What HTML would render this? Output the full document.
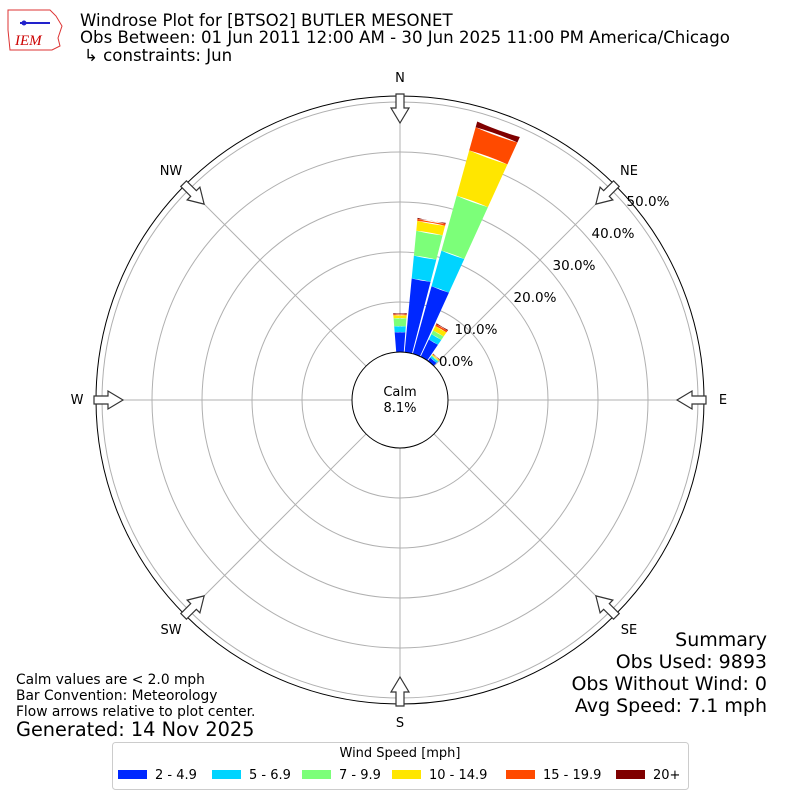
<!DOCTYPE html>
<html><head><meta charset="utf-8"><style>
body{margin:0;background:#fff}
svg{display:block;font-family:"DejaVu Sans","Liberation Sans",sans-serif}
</style></head><body>
<svg id="s" width="800" height="800" viewBox="0 0 800 800">
<rect width="800" height="800" fill="#fff"/>
<g id="grid" stroke="#b0b0b0" stroke-width="1" fill="none"></g>
<g id="bars"></g>
<circle cx="400" cy="400" r="48" fill="none" stroke="#000" stroke-width="1"/>
<circle cx="400" cy="400" r="304" fill="none" stroke="#000" stroke-width="1"/>
<g id="arrows" fill="#fff" stroke="#333" stroke-width="1.2"></g>
<g font-size="13" fill="#000" text-anchor="middle">
<text x="400" y="82">N</text><text x="629" y="175">NE</text><text x="723" y="404">E</text>
<text x="629" y="634">SE</text><text x="400" y="727">S</text><text x="171" y="634">SW</text>
<text x="77" y="404">W</text><text x="171" y="175">NW</text>
<text x="400" y="396">Calm</text><text x="400" y="412">8.1%</text>
</g>
<g font-size="13.5" fill="#000" text-anchor="middle">
<text x="456" y="366">0.0%</text><text x="476" y="334">10.0%</text><text x="535" y="302">20.0%</text>
<text x="574" y="270">30.0%</text><text x="613" y="238">40.0%</text><text x="648" y="206">50.0%</text>
</g>
<g font-size="16.6" fill="#000">
<text x="80" y="26">Windrose Plot for [BTSO2] BUTLER MESONET</text>
<text x="80" y="43">Obs Between: 01 Jun 2011 12:00 AM - 30 Jun 2025 11:00 PM America/Chicago</text>
<text x="84" y="61">↳ constraints: Jun</text>
</g>
<g>
<path d="M8 10 L50 10 L56 16 L62 26 L58 38 L60 46 L52 50 L10 50 L8 30 Z" fill="none" stroke="#d33" stroke-width="1"/>
<text x="15" y="45" font-size="15" font-style="italic" font-family="Liberation Serif,serif" fill="#c00">IEM</text>
<line x1="20" y1="23" x2="50" y2="23" stroke="#22c" stroke-width="2"/>
<circle cx="24" cy="23" r="2.5" fill="#22c"/>
</g>
<g font-size="13.8" fill="#000">
<text x="16" y="684">Calm values are &lt; 2.0 mph</text>
<text x="16" y="700">Bar Convention: Meteorology</text>
<text x="16" y="716">Flow arrows relative to plot center.</text>
<text x="16" y="736" font-size="19.3">Generated: 14 Nov 2025</text>
</g>
<g font-size="19" fill="#000" text-anchor="end">
<text x="767" y="646">Summary</text><text x="767" y="668">Obs Used: 9893</text>
<text x="767" y="690">Obs Without Wind: 0</text><text x="767" y="712">Avg Speed: 7.1 mph</text>
</g>
<rect x="112.5" y="742.5" width="576" height="47" rx="3" fill="#fff" stroke="#ccc"/>
<text x="400" y="757" font-size="13" text-anchor="middle">Wind Speed [mph]</text>
<g font-size="13">
<rect x="118" y="770" width="29" height="9" fill="#0028ff"/><text x="155" y="779">2 - 4.9</text>
<rect x="212" y="770" width="29" height="9" fill="#00d4ff"/><text x="249" y="779">5 - 6.9</text>
<rect x="302" y="770" width="29" height="9" fill="#7cff79"/><text x="339" y="779">7 - 9.9</text>
<rect x="392" y="770" width="29" height="9" fill="#ffe600"/><text x="429" y="779">10 - 14.9</text>
<rect x="506" y="770" width="29" height="9" fill="#ff4a00"/><text x="543" y="779">15 - 19.9</text>
<rect x="616" y="770" width="29" height="9" fill="#7f0000"/><text x="653" y="779">20+</text>
</g>
</svg>
<script>
var NS="http://www.w3.org/2000/svg",cx=400,cy=400;
function el(p,t,a){var e=document.createElementNS(NS,t);for(var k in a)e.setAttribute(k,a[k]);p.appendChild(e);return e;}
var g=document.getElementById("grid");
[98,148,198,248,298].forEach(function(r){el(g,"circle",{cx:cx,cy:cy,r:r});});
for(var i=0;i<8;i++){var a=i*Math.PI/4;el(g,"line",{x1:cx+48*Math.sin(a),y1:cy-48*Math.cos(a),x2:cx+298*Math.sin(a),y2:cy-298*Math.cos(a)});}
function pt(r,deg){var a=deg*Math.PI/180;return (cx+r*Math.sin(a)).toFixed(2)+" "+(cy-r*Math.cos(a)).toFixed(2);}
function wedge(r0,r1,c,hw){return "M"+pt(r0,c-hw)+" A"+r0+" "+r0+" 0 0 1 "+pt(r0,c+hw)+" L"+pt(r1,c+hw)+" A"+r1+" "+r1+" 0 0 1 "+pt(r1,c-hw)+" Z";}
var cols=["#0028ff","#00d4ff","#7cff79","#ffe600","#ff4a00","#7f0000"];
var data=[[0,[68,74,82,85,86,87]],[10,[122,145,170,180,182,183]],[20,[118,155,212,259,283,289]],[30,[67,73,77,82,84,85]],[40,[52,54,55,56,56.5,57]]];
var b=document.getElementById("bars");
data.forEach(function(d){var r0=48;d[1].forEach(function(r,j){if(r>r0)el(b,"path",{d:wedge(r0,r,d[0],4.5),fill:cols[j]});r0=r;});});
var ar=document.getElementById("arrows");
for(var i=0;i<8;i++){var a=i*45;
el(ar,"path",{d:"M-4 -306 L4 -306 L4 -292 L9 -292 L0 -277 L-9 -292 L-4 -292 Z",transform:"translate(400 400) rotate("+a+")"});}
</script>
</body></html>
